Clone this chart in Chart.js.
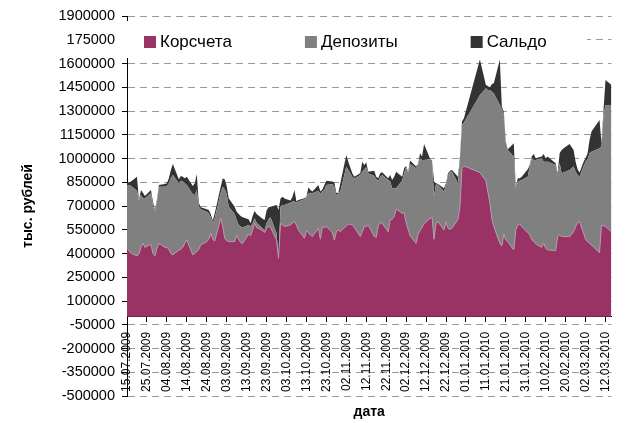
<!DOCTYPE html>
<html>
<head>
<meta charset="utf-8">
<script src="https://cdn.jsdelivr.net/npm/chart.js@4.4.1/dist/chart.umd.min.js"></script>
<style>
  html, body { margin: 0; padding: 0; background: #fff; }
  #wrap { width: 630px; height: 423px; }
</style>
</head>
<body>
<div id="wrap"><canvas id="chart" width="630" height="423"></canvas></div>
<script>
// Dates of the observations (working days)
const dates = [
  '15.07.2009','16.07.2009','17.07.2009','20.07.2009','21.07.2009','22.07.2009','23.07.2009','24.07.2009',
  '27.07.2009','28.07.2009','29.07.2009','30.07.2009','31.07.2009',
  '03.08.2009','04.08.2009','05.08.2009','06.08.2009','07.08.2009','10.08.2009','11.08.2009','12.08.2009',
  '13.08.2009','14.08.2009','17.08.2009','18.08.2009','19.08.2009','20.08.2009','21.08.2009','24.08.2009',
  '25.08.2009','26.08.2009','27.08.2009','28.08.2009','31.08.2009',
  '01.09.2009','02.09.2009','03.09.2009','04.09.2009','07.09.2009','08.09.2009','09.09.2009','10.09.2009',
  '11.09.2009','14.09.2009','15.09.2009','16.09.2009','17.09.2009','18.09.2009','21.09.2009','22.09.2009',
  '23.09.2009','24.09.2009','25.09.2009','28.09.2009','29.09.2009','30.09.2009',
  '01.10.2009','02.10.2009','05.10.2009','06.10.2009','07.10.2009','08.10.2009','09.10.2009','12.10.2009',
  '13.10.2009','14.10.2009','15.10.2009','16.10.2009','19.10.2009','20.10.2009','21.10.2009','22.10.2009',
  '23.10.2009','26.10.2009','27.10.2009','28.10.2009','29.10.2009','30.10.2009',
  '02.11.2009','03.11.2009','05.11.2009','06.11.2009','09.11.2009','10.11.2009','11.11.2009','12.11.2009',
  '13.11.2009','16.11.2009','17.11.2009','18.11.2009','19.11.2009','20.11.2009','23.11.2009','24.11.2009',
  '25.11.2009','26.11.2009','27.11.2009','30.11.2009',
  '01.12.2009','02.12.2009','03.12.2009','04.12.2009','07.12.2009','08.12.2009','09.12.2009','10.12.2009',
  '11.12.2009','14.12.2009','15.12.2009','16.12.2009','17.12.2009','18.12.2009','21.12.2009','22.12.2009',
  '23.12.2009','24.12.2009','25.12.2009','28.12.2009','29.12.2009','30.12.2009','31.12.2009',
  '08.01.2010','11.01.2010','12.01.2010','13.01.2010','14.01.2010','15.01.2010','18.01.2010','19.01.2010',
  '20.01.2010','21.01.2010','22.01.2010','25.01.2010','26.01.2010','27.01.2010','28.01.2010','29.01.2010',
  '01.02.2010','02.02.2010','03.02.2010','04.02.2010','05.02.2010','08.02.2010','09.02.2010','10.02.2010',
  '11.02.2010','12.02.2010','15.02.2010','16.02.2010','17.02.2010','18.02.2010','19.02.2010','22.02.2010',
  '24.02.2010','25.02.2010','26.02.2010','27.02.2010',
  '01.03.2010','02.03.2010','03.03.2010','04.03.2010','05.03.2010','09.03.2010','10.03.2010','11.03.2010',
  '12.03.2010','15.03.2010'
];

// тыс. рублей
const korscheta = [
  433000,418000,401000,385000,397000,439000,464000,439000,
  458000,401000,385000,433000,464000,
  439000,439000,427000,401000,391000,422000,427000,439000,
  464000,485000,391000,401000,412000,427000,454000,475000,
  490000,528000,490000,479000,622000,
  574000,496000,481000,475000,475000,517000,490000,469000,
  464000,523000,511000,549000,591000,565000,544000,532000,
  559000,570000,565000,485000,370000,591000,
  580000,570000,580000,595000,601000,580000,549000,496000,
  544000,532000,517000,507000,559000,490000,570000,565000,
  570000,532000,485000,538000,549000,538000,
  574000,587000,580000,565000,507000,538000,570000,570000,
  580000,507000,502000,574000,595000,591000,538000,612000,
  616000,633000,681000,654000,
  658000,595000,553000,511000,464000,523000,544000,565000,
  587000,622000,629000,490000,591000,601000,549000,601000,
  559000,553000,559000,616000,696000,938000,953000,
  911000,860000,790000,720000,620000,570000,464000,448000,
  523000,485000,475000,422000,549000,580000,587000,570000,
  532000,517000,490000,475000,460000,439000,464000,433000,
  422000,422000,418000,507000,517000,507000,507000,507000,
  538000,570000,595000,601000,
  528000,490000,475000,464000,454000,405000,580000,574000,
  570000,538000
];

const depozity = [
  400000,415000,426000,412000,337000,331000,285000,310000,
  322000,306000,279000,295000,358000,
  383000,388000,416000,474000,505000,421000,433000,415000,
  379000,348000,383000,369000,389000,269000,225000,189000,
  164000,101000,105000,143000,162000,
  248000,309000,295000,221000,175000,95000,90000,101000,
  101000,57000,59000,42000,31000,30000,15000,17000,
  32000,46000,64000,43000,0,105000,
  127000,137000,141000,133000,127000,141000,179000,246000,
  211000,248000,267000,273000,238000,286000,221000,236000,
  263000,307000,337000,232000,227000,253000,
  375000,341000,305000,308000,389000,379000,362000,374000,
  327000,383000,369000,286000,290000,305000,326000,242000,
  196000,179000,131000,206000,
  249000,349000,358000,454000,474000,436000,457000,426000,
  404000,373000,351000,269000,248000,232000,242000,232000,
  337000,364000,358000,227000,305000,274000,274000,
  490000,583000,643000,713000,802000,842000,874000,863000,
  758000,615000,579000,590000,263000,274000,273000,294000,
  353000,432000,511000,516000,531000,562000,516000,547000,
  558000,552000,541000,389000,453000,400000,404000,421000,
  411000,347000,301000,284000,
  421000,490000,520000,569000,589000,659000,495000,701000,
  768000,800000
];

const saldo = [
  15000,15000,27000,88000,4000,31000,35000,14000,
  21000,21000,11000,10000,11000,
  17000,16000,32000,53000,69000,26000,30000,31000,
  32000,52000,52000,73000,101000,25000,13000,15000,
  21000,21000,13000,31000,38000,
  51000,64000,50000,53000,46000,52000,70000,67000,
  64000,36000,21000,46000,47000,55000,61000,63000,
  80000,76000,67000,178000,305000,52000,
  52000,41000,13000,31000,73000,7000,10000,7000,
  4000,38000,17000,11000,36000,15000,14000,32000,
  27000,15000,26000,14000,4000,52000,
  73000,52000,22000,12000,11000,63000,27000,30000,
  10000,33000,14000,15000,22000,17000,11000,42000,
  52000,73000,105000,25000,
  31000,9000,6000,22000,11000,6000,32000,21000,
  101000,4000,7000,95000,4000,6000,21000,10000,
  11000,6000,11000,42000,11000,21000,27000,
  225000,21000,25000,15000,49000,63000,288000,16000,
  15000,6000,4000,84000,10000,21000,15000,21000,
  47000,10000,11000,38000,10000,11000,49000,21000,
  32000,27000,11000,11000,63000,147000,153000,164000,
  105000,63000,36000,26000,
  31000,21000,38000,84000,127000,179000,21000,32000,
  158000,126000
];

const xTickLabels = [
  '15.07.2009','25.07.2009','04.08.2009','14.08.2009','24.08.2009','03.09.2009','13.09.2009',
  '23.09.2009','03.10.2009','13.10.2009','23.10.2009','02.11.2009','12.11.2009','22.11.2009',
  '02.12.2009','12.12.2009','22.12.2009','01.01.2010','11.01.2010','21.01.2010','31.01.2010',
  '10.02.2010','20.02.2010','02.03.2010','12.03.2010'
];

const yTickLabels = [
  '-500000','-350000','-200000','-50000','100000','250000','400000','550000','700000',
  '850000','1000000','1150000','1300000','1450000','1600000','175000','1900000'
];

const FONT = "'Liberation Sans', Arial, sans-serif";

const startDay = Date.UTC(2009, 6, 15);
function dayOffset(s) {
  const [d, m, y] = s.split('.').map(Number);
  return Math.round((Date.UTC(y, m - 1, d) - startDay) / 86400000);
}
const toPoints = values => values.map((v, i) => ({ x: dayOffset(dates[i]), y: v }));
const lastDay = dayOffset(dates[dates.length - 1]);

// legend drawn inside the plot on a white box, like the original
const legendBox = {
  id: 'legendBox',
  afterDraw(chart) {
    const ctx = chart.ctx;
    ctx.save();
    ctx.fillStyle = '#ffffff';
    ctx.fillRect(121, 21, 466, 37);
    ctx.font = '17px ' + FONT;
    ctx.textBaseline = 'middle';
    let x = 144;
    chart.data.datasets.forEach(ds => {
      ctx.fillStyle = ds.backgroundColor;
      ctx.fillRect(x, 36, 12, 12);
      ctx.fillStyle = '#000000';
      ctx.fillText(ds.label, x + 16, 42);
      x += 16 + ctx.measureText(ds.label).width + 73;
    });
    ctx.restore();
  }
};

new Chart(document.getElementById('chart'), {
  type: 'line',
  data: {
    datasets: [
      { label: 'Корсчета', data: toPoints(korscheta), backgroundColor: '#993366',
        borderColor: '#b39aa8', borderWidth: 1, fill: 'origin' },
      { label: 'Депозиты', data: toPoints(depozity), backgroundColor: '#808080', fill: '-1' },
      { label: 'Сальдо', data: toPoints(saldo), backgroundColor: '#333333', fill: '-1' }
    ]
  },
  options: {
    responsive: false,
    animation: false,
    events: [],
    layout: { padding: { left: 0, right: 8, top: 16, bottom: 27 } },
    elements: {
      line: { borderWidth: 0, tension: 0 },
      point: { radius: 0 }
    },
    plugins: {
      legend: { display: false },
      tooltip: { enabled: false }
    },
    scales: {
      x: {
        type: 'linear',
        position: { y: 0 },
        min: 0,
        max: lastDay,
        grid: { drawOnChartArea: false, drawTicks: true, tickLength: 5, tickColor: '#000000' },
        border: { color: '#000000', width: 1 },
        ticks: {
          stepSize: 10,
          includeBounds: false,
          autoSkip: false,
          minRotation: 90,
          maxRotation: 90,
          padding: 10,
          color: '#000000',
          font: { family: FONT, size: 12 },
          callback: (value, index) => xTickLabels[index]
        },
        title: {
          display: true,
          text: 'дата',
          color: '#000000',
          font: { family: FONT, size: 14, weight: 'bold' },
          padding: { top: 2, bottom: 0 }
        }
      },
      y: {
        stacked: true,
        min: -500000,
        max: 1900000,
        afterFit: scale => { scale.width = 127; },
        grid: { color: '#999999', lineWidth: 1, tickLength: 5, tickColor: '#000000' },
        border: { color: '#000000', width: 1, dash: [7, 5] },
        ticks: {
          stepSize: 150000,
          padding: 7,
          color: '#000000',
          font: { family: FONT, size: 14.5 },
          callback: (value, index) => yTickLabels[index]
        },
        title: {
          display: true,
          text: 'тыс. рублей',
          color: '#000000',
          font: { family: FONT, size: 14, weight: 'bold' },
          padding: { top: 20, bottom: 0 }
        }
      }
    }
  },
  plugins: [legendBox]
});
</script>
</body>
</html>
